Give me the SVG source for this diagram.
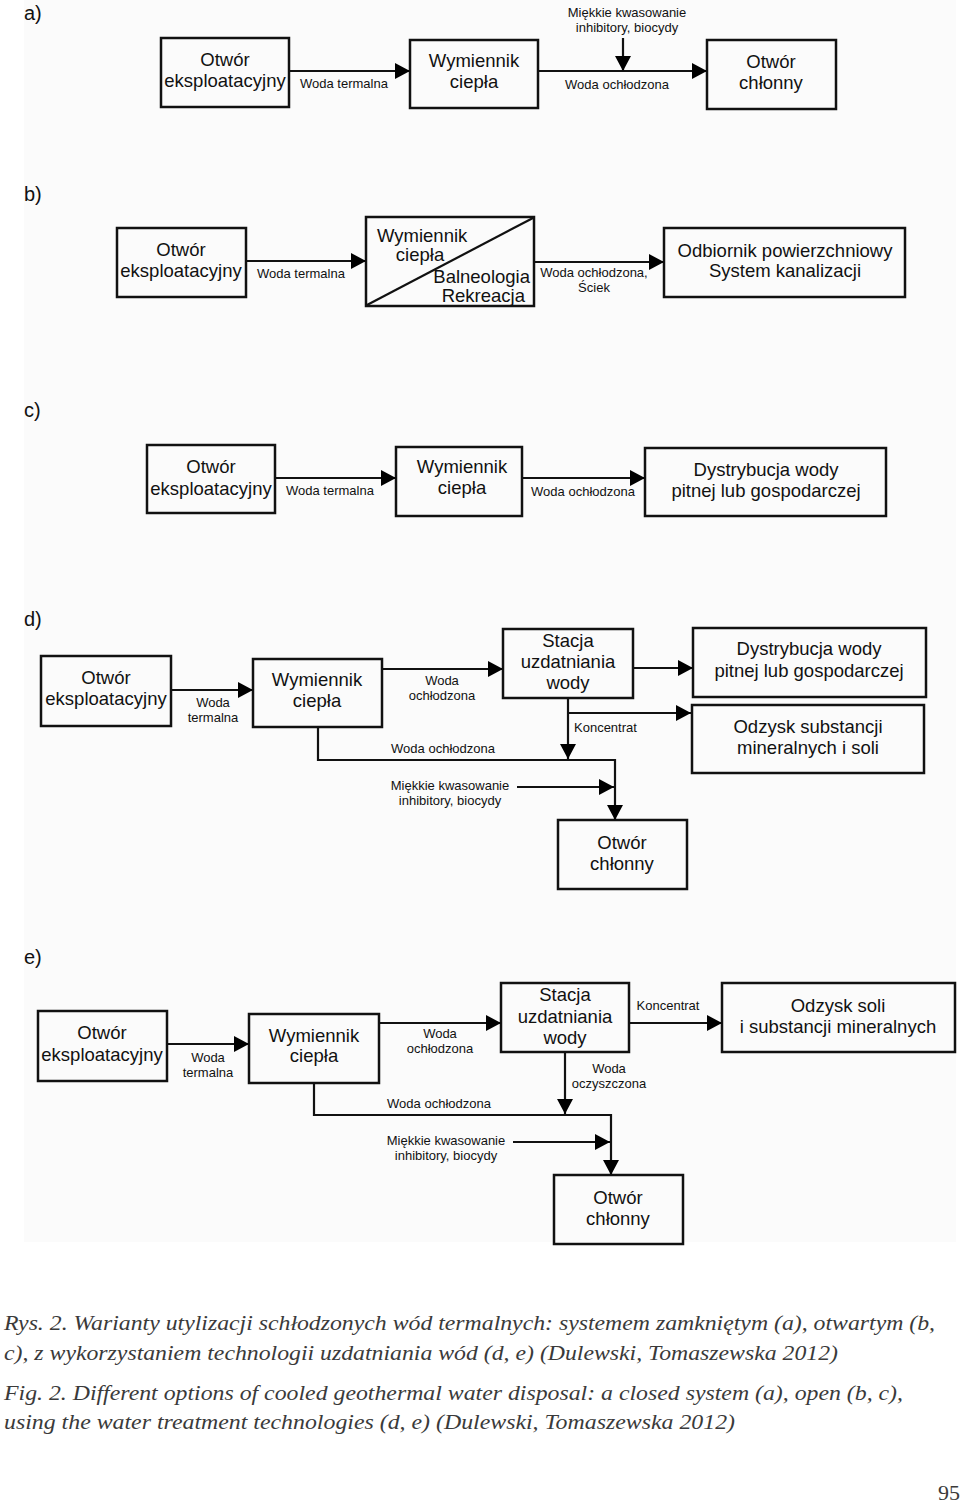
<svg xmlns="http://www.w3.org/2000/svg" width="960" height="1502" viewBox="0 0 960 1502">
<defs>
<marker id="ah" markerUnits="userSpaceOnUse" markerWidth="15" markerHeight="16" refX="15" refY="8" orient="auto">
<path d="M0,0 L15,8 L0,16 z" fill="#000"/>
</marker>
<style>
.box{fill:none;stroke:#111;stroke-width:2.5}
.ln{fill:none;stroke:#111;stroke-width:2.2}
.ar{fill:none;stroke:#111;stroke-width:2.2;marker-end:url(#ah)}
.t{font-family:"Liberation Sans",Arial,sans-serif;font-size:18.5px;fill:#111;text-anchor:middle}
.s{font-family:"Liberation Sans",Arial,sans-serif;font-size:13px;fill:#111;text-anchor:middle}
.lab{font-family:"Liberation Sans",Arial,sans-serif;font-size:20px;fill:#111}
.cap{font-family:"Liberation Serif","Times New Roman",serif;font-size:22px;font-style:italic;fill:#3a3a3a}
</style>
</defs>
<rect x="0" y="0" width="960" height="1502" fill="#ffffff"/>
<rect x="24" y="0" width="932" height="1242" fill="#fbfbfb"/>

<!-- section labels -->
<text class="lab" x="24" y="20">a)</text>
<text class="lab" x="24" y="201">b)</text>
<text class="lab" x="24" y="417">c)</text>
<text class="lab" x="24" y="626">d)</text>
<text class="lab" x="24" y="964">e)</text>

<!-- ===== a) ===== -->
<g id="a-otwor-eksp"><rect class="box" x="161" y="38" width="128" height="69"/><text class="t" x="225" y="66">Otwór</text><text class="t" x="225" y="87">eksploatacyjny</text></g>
<g id="a-wymiennik"><rect class="box" x="410" y="40" width="128" height="68"/><text class="t" x="474" y="67">Wymiennik</text><text class="t" x="474" y="88">ciepła</text></g>
<g id="a-otwor-chl"><rect class="box" x="707" y="40" width="129" height="69"/><text class="t" x="771" y="68">Otwór</text><text class="t" x="771" y="89">chłonny</text></g>

<!-- ===== b) ===== -->
<g id="b-otwor-eksp"><rect class="box" x="117" y="228" width="129" height="69"/><text class="t" x="181" y="256">Otwór</text><text class="t" x="181" y="277">eksploatacyjny</text></g>
<g id="b-wymiennik"><rect class="box" x="366" y="217" width="168" height="89"/><line class="ln" x1="367" y1="305" x2="533" y2="218"/><text class="t" x="377" y="242" style="text-anchor:start">Wymiennik</text><text class="t" x="420" y="261">ciepła</text><text class="t" x="530" y="283" style="text-anchor:end">Balneologia</text><text class="t" x="525" y="302" style="text-anchor:end">Rekreacja</text></g>
<g id="b-odbiornik"><rect class="box" x="664" y="228" width="241" height="69"/><text class="t" x="785" y="257">Odbiornik powierzchniowy</text><text class="t" x="785" y="277">System kanalizacji</text></g>

<!-- ===== c) ===== -->
<g id="c-otwor-eksp"><rect class="box" x="147" y="445" width="128" height="68"/><text class="t" x="211" y="473">Otwór</text><text class="t" x="211" y="495">eksploatacyjny</text></g>
<g id="c-wymiennik"><rect class="box" x="396" y="447" width="126" height="69"/><text class="t" x="462" y="473">Wymiennik</text><text class="t" x="462" y="494">ciepła</text></g>
<g id="c-dystrybucja"><rect class="box" x="645" y="448" width="241" height="68"/><text class="t" x="766" y="476">Dystrybucja wody</text><text class="t" x="766" y="497">pitnej lub gospodarczej</text></g>

<!-- ===== d) ===== -->
<g id="d-otwor-eksp"><rect class="box" x="41" y="656" width="130" height="70"/><text class="t" x="106" y="684">Otwór</text><text class="t" x="106" y="705">eksploatacyjny</text></g>
<g id="d-wymiennik"><rect class="box" x="253" y="659" width="129" height="68"/><text class="t" x="317" y="686">Wymiennik</text><text class="t" x="317" y="707">ciepła</text></g>
<g id="d-stacja"><rect class="box" x="503" y="629" width="130" height="69"/><text class="t" x="568" y="647">Stacja</text><text class="t" x="568" y="668">uzdatniania</text><text class="t" x="568" y="689">wody</text></g>
<g id="d-dystrybucja"><rect class="box" x="693" y="628" width="233" height="69"/><text class="t" x="809" y="655">Dystrybucja wody</text><text class="t" x="809" y="677">pitnej lub gospodarczej</text></g>
<g id="d-odzysk"><rect class="box" x="692" y="705" width="232" height="68"/><text class="t" x="808" y="733">Odzysk substancji</text><text class="t" x="808" y="754">mineralnych i soli</text></g>
<g id="d-otwor-chl"><rect class="box" x="558" y="820" width="129" height="69"/><text class="t" x="622" y="849">Otwór</text><text class="t" x="622" y="870">chłonny</text></g>

<!-- ===== e) ===== -->
<g id="e-otwor-eksp"><rect class="box" x="38" y="1011" width="129" height="70"/><text class="t" x="102" y="1039">Otwór</text><text class="t" x="102" y="1061">eksploatacyjny</text></g>
<g id="e-wymiennik"><rect class="box" x="249" y="1014" width="130" height="69"/><text class="t" x="314" y="1042">Wymiennik</text><text class="t" x="314" y="1062">ciepła</text></g>
<g id="e-stacja"><rect class="box" x="501" y="983" width="128" height="69"/><text class="t" x="565" y="1001">Stacja</text><text class="t" x="565" y="1023">uzdatniania</text><text class="t" x="565" y="1044">wody</text></g>
<g id="e-odzysk"><rect class="box" x="722" y="983" width="233" height="69"/><text class="t" x="838" y="1012">Odzysk soli</text><text class="t" x="838" y="1033">i substancji mineralnych</text></g>
<g id="e-otwor-chl"><rect class="box" x="554" y="1175" width="129" height="69"/><text class="t" x="618" y="1204">Otwór</text><text class="t" x="618" y="1225">chłonny</text></g>

<!-- ===== connectors ===== -->
<g id="connectors">
<!-- a -->
<line class="ar" x1="289" y1="71" x2="410" y2="71"/>
<line class="ar" x1="538" y1="71" x2="707" y2="71"/>
<line class="ar" x1="623" y1="38" x2="623" y2="71"/>
<!-- b -->
<line class="ar" x1="246" y1="261" x2="366" y2="261"/>
<line class="ar" x1="534" y1="262" x2="664" y2="262"/>
<!-- c -->
<line class="ar" x1="275" y1="478" x2="396" y2="478"/>
<line class="ar" x1="522" y1="478" x2="645" y2="478"/>
<!-- d -->
<line class="ar" x1="171" y1="690" x2="253" y2="690"/>
<line class="ar" x1="382" y1="669" x2="503" y2="669"/>
<line class="ar" x1="633" y1="668" x2="693" y2="668"/>
<line class="ar" x1="568" y1="698" x2="568" y2="759"/>
<line class="ar" x1="568" y1="713" x2="691" y2="713"/>
<polyline class="ar" points="318,727 318,760 615,760 615,820"/>
<line class="ar" x1="517" y1="787" x2="614" y2="787"/>
<!-- e -->
<line class="ar" x1="167" y1="1044" x2="249" y2="1044"/>
<line class="ar" x1="379" y1="1023" x2="501" y2="1023"/>
<line class="ar" x1="629" y1="1023" x2="722" y2="1023"/>
<line class="ar" x1="565" y1="1052" x2="565" y2="1114"/>
<polyline class="ar" points="314,1083 314,1115 611,1115 611,1175"/>
<line class="ar" x1="513" y1="1142" x2="610" y2="1142"/>
</g>

<!-- connector labels -->
<g id="labels">
<text class="s" x="344" y="88">Woda termalna</text>
<text class="s" x="617" y="89">Woda ochłodzona</text>
<text class="s" x="627" y="17">Miękkie kwasowanie</text>
<text class="s" x="627" y="32">inhibitory, biocydy</text>

<text class="s" x="301" y="278">Woda termalna</text>
<text class="s" x="594" y="277">Woda ochłodzona,</text>
<text class="s" x="594" y="292">Ściek</text>

<text class="s" x="330" y="495">Woda termalna</text>
<text class="s" x="583" y="496">Woda ochłodzona</text>

<text class="s" x="213" y="707">Woda</text>
<text class="s" x="213" y="722">termalna</text>
<text class="s" x="442" y="685">Woda</text>
<text class="s" x="442" y="700">ochłodzona</text>
<text class="s" x="443" y="753">Woda ochłodzona</text>
<text class="s" x="450" y="790">Miękkie kwasowanie</text>
<text class="s" x="450" y="805">inhibitory, biocydy</text>
<text class="s" x="574" y="732" style="text-anchor:start">Koncentrat</text>

<text class="s" x="208" y="1062">Woda</text>
<text class="s" x="208" y="1077">termalna</text>
<text class="s" x="440" y="1038">Woda</text>
<text class="s" x="440" y="1053">ochłodzona</text>
<text class="s" x="439" y="1108">Woda ochłodzona</text>
<text class="s" x="446" y="1145">Miękkie kwasowanie</text>
<text class="s" x="446" y="1160">inhibitory, biocydy</text>
<text class="s" x="668" y="1010">Koncentrat</text>
<text class="s" x="609" y="1073">Woda</text>
<text class="s" x="609" y="1088">oczyszczona</text>
</g>

<!-- caption -->
<g id="caption">
<text class="cap" x="4" y="1330" textLength="931" lengthAdjust="spacingAndGlyphs">Rys. 2. Warianty utylizacji schłodzonych wód termalnych: systemem zamkniętym (a), otwartym (b,</text>
<text class="cap" x="4" y="1360" textLength="834" lengthAdjust="spacingAndGlyphs">c), z wykorzystaniem technologii uzdatniania wód (d, e) (Dulewski, Tomaszewska 2012)</text>
<text class="cap" x="4" y="1400" textLength="899" lengthAdjust="spacingAndGlyphs">Fig. 2. Different options of cooled geothermal water disposal: a closed system (a), open (b, c),</text>
<text class="cap" x="4" y="1429" textLength="731" lengthAdjust="spacingAndGlyphs">using the water treatment technologies (d, e) (Dulewski, Tomaszewska 2012)</text>
<text x="960" y="1500" style="font-family:'Liberation Serif','Times New Roman',serif;font-size:22px;fill:#3a3a3a;text-anchor:end">95</text>
</g>
</svg>
